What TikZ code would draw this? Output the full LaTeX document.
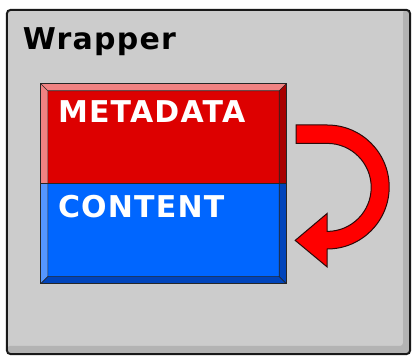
\documentclass[tikz,border=0pt]{standalone}
\usepackage{fontspec}
\setmainfont{DejaVu Sans}
\usetikzlibrary{positioning,calc}

\definecolor{wrapgray}{HTML}{CCCCCC}
\definecolor{wrapshade}{HTML}{B3B3B3}
\definecolor{metaface}{HTML}{DD0000}
\definecolor{metalight}{HTML}{F08282}
\definecolor{metadark}{HTML}{A80000}
\definecolor{contface}{HTML}{0066FF}
\definecolor{contlight}{HTML}{5596FF}
\definecolor{contdark}{HTML}{0044BB}
\definecolor{arrowred}{HTML}{FF0000}
\definecolor{edgedark}{HTML}{2A0A0A}

\begin{document}
\begin{tikzpicture}[
  x=1pt, y=1pt,
  wrapbox/.style={
    rectangle, fill=wrapgray, minimum width=403pt, minimum height=344pt,
    inner sep=0pt, rounded corners=4pt,
    path picture={
      \fill[wrapshade, rounded corners=3pt]
        ([xshift=-7pt]path picture bounding box.north east)
        |- ([yshift=8pt]path picture bounding box.south west)
        -- (path picture bounding box.south west)
        -| (path picture bounding box.north east) -- cycle;
    }
  },
  part/.style={
    rectangle, minimum width=245pt, inner sep=0pt
  },
  caption/.style={
    anchor=north west, inner sep=0pt, text=white,
    font=\fontsize{30}{30}\selectfont\bfseries\addfontfeatures{LetterSpace=4}
  },
  bigarrow/.style={
    fill=arrowred, draw=edgedark, line width=1pt, line join=miter
  },
]
\useasboundingbox (0,0) rectangle (413,361);

% wrapper
\node[wrapbox] (wrap) at (208.5,179) {};
\draw[black!90, line width=2pt, rounded corners=4pt]
  (wrap.south west) rectangle (wrap.north east);
\node[anchor=north west, inner sep=0pt,
  font=\fontsize{30}{30}\selectfont\bfseries\addfontfeatures{LetterSpace=4}]
  (title) at ([shift={(16,-18)}]wrap.north west) {Wrapper};

% metadata and content
\node[part, fill=metaface, minimum height=99pt] (meta) at (163.5,227.5) {};
\node[part, fill=contface, minimum height=100pt, below=0pt of meta] (cont) {};

% bevels
\fill[metalight] (meta.south west) -- (meta.north west) -- (meta.north east)
  -- ([shift={(-7,-7)}]meta.north east) -- ([shift={(7,-7)}]meta.north west)
  -- ([xshift=7]meta.south west) -- cycle;
\fill[metadark] (meta.north east) -- (meta.south east) -- ([xshift=-7]meta.south east)
  -- ([shift={(-7,-7)}]meta.north east) -- cycle;
\fill[contlight] (cont.north west) -- (cont.south west)
  -- ([shift={(7,7)}]cont.south west) -- ([xshift=7]cont.north west) -- cycle;
\fill[contdark] (cont.south west) -- (cont.south east) -- (cont.north east)
  -- ([xshift=-7]cont.north east) -- ([shift={(-7,7)}]cont.south east)
  -- ([shift={(7,7)}]cont.south west) -- cycle;
\draw[black!85, line width=0.6pt]
  ([shift={(7,-7)}]meta.north west) rectangle ([shift={(-7,7)}]cont.south east)
  (meta.north west) -- ++(7,-7) (meta.north east) -- ++(-7,-7)
  (cont.south west) -- ++(7,7) (cont.south east) -- ++(-7,7);
\draw[black!85, line width=0.8pt] (meta.north west) rectangle (cont.south east)
  (meta.south west) -- (meta.south east);

\node[caption] (metatext) at ([shift={(17,-17)}]meta.north west) {METADATA};
\node[caption] (conttext) at ([shift={(17,-12)}]cont.north west) {CONTENT};

% curved arrow
\draw[bigarrow] ([shift={(10,8.5)}]meta.east) -- ++(31,0)
  arc[start angle=90, end angle=-90, radius=62] -- ++(0,-18)
  -- ([shift={(9,-7)}]cont.east) -- ++(32,27) -- ++(0,-18)
  arc[start angle=-90, end angle=90, radius=44] -- ++(-31,0) -- cycle;

\end{tikzpicture}
\end{document}
